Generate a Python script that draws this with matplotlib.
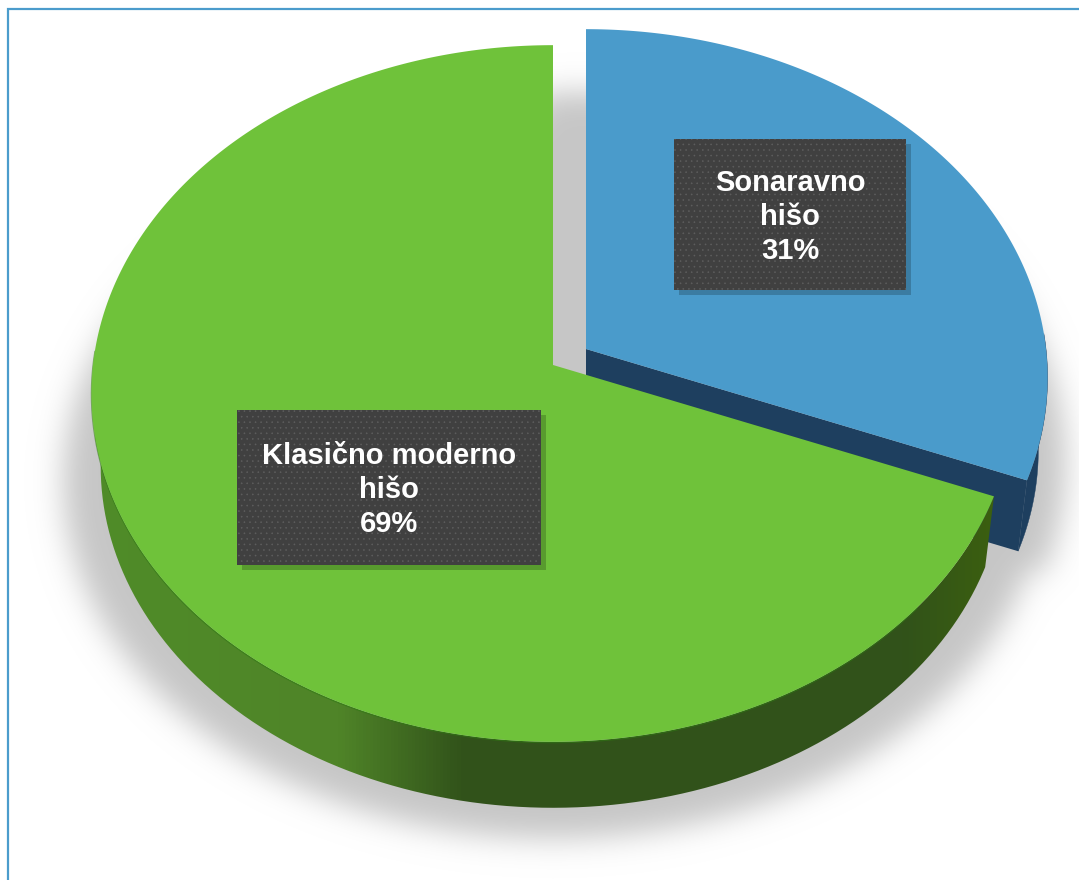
import numpy as np
import matplotlib
matplotlib.use("Agg")
import matplotlib.pyplot as plt
from matplotlib.path import Path
from matplotlib.patches import Polygon, Rectangle, PathPatch
from matplotlib.colors import LinearSegmentedColormap

categories = ["Sonaravno hišo", "Klasično moderno hišo"]
label_lines = [["Sonaravno", "hišo"], ["Klasično moderno", "hišo"]]
shares = [31, 69]

# ---- styling / layout ----
W, H = 1079, 880
TOP_COL = ["#4a9bcb", "#6fc23a"]
BLUE_DARK = "#1e3f5f"
BOX_COL = "#404040"
DOT_COL = "#5e5e5e"
FRAME_COL = "#4b9ccc"
CENTER = (553.0, 365.0)
EXPLODE = [(33.0, -16.0), (0.0, 0.0)]
B, A, P = 460.0, 346.0, 0.0818   # perspective disc
DEPTH, BOTTOM_SCALE = 73.5, 0.98
BOXES = [(674, 139, 232, 151), (237, 410, 304, 155)]
WALL_STOPS = [(0.0, "#4f8c28"), (0.27, "#4f8428"), (0.41, "#31521a"),
              (0.9, "#31521a"), (1.0, "#3b5f10")]

plt.rcParams["font.family"] = ["Liberation Sans", "DejaVu Sans"]
plt.rcParams["hatch.linewidth"] = 0.4


def disc(theta, c, b=B, a=A, scale=1.0, dz=0.0):
    """Project clock angle theta (radians from 12 o'clock) on to the picture."""
    u, v = np.sin(theta), np.cos(theta)
    w = 1 + P * v
    return c[0] + scale * b * u / w, c[1] + dz - scale * a * v / w


def blur(img, sigma, pad=80):
    img = np.pad(img, pad)
    fy = np.fft.fftfreq(img.shape[0])[:, None]
    fx = np.fft.rfftfreq(img.shape[1])[None, :]
    g = np.exp(-2 * (np.pi * sigma) ** 2 * (fx ** 2 + fy ** 2))
    out = np.fft.irfft2(np.fft.rfft2(img) * g, s=img.shape)
    return out[pad:-pad, pad:-pad]


fracs = np.array(shares) / sum(shares)
edges = np.concatenate([[0], np.cumsum(fracs)]) * 2 * np.pi
centers = [(CENTER[0] + e[0], CENTER[1] + e[1]) for e in EXPLODE]

fig = plt.figure(figsize=(W / 100, H / 100), dpi=100)
ax = fig.add_axes([0, 0, 1, 1])
ax.set_xlim(0, W)
ax.set_ylim(H, 0)

# ---- soft shadow ----
yy, xx = np.mgrid[0:H, 0:W]
pts = np.column_stack([xx.ravel() + 0.5, yy.ravel() + 0.5])
tt = np.linspace(0, 2 * np.pi, 400)
sx, sy = disc(tt, (CENTER[0], 452.0), b=488.0, a=355.0)
mask = Path(np.column_stack([sx, sy])).contains_points(pts)
t0 = np.linspace(edges[0] - 0.12, edges[1], 200)
sx, sy = disc(t0, (centers[0][0], 433.0), b=478.0, a=369.0)
poly = np.vstack([[centers[0][0] - 40, 433.0], np.column_stack([sx, sy])])
mask |= Path(poly).contains_points(pts)
soft = np.clip(blur(mask.reshape(H, W).astype(float), 15.0), 0, 1)
rgba = np.zeros((H, W, 4))
rgba[..., :3] = 0.78
rgba[..., 3] = soft
ax.imshow(rgba, extent=(0, W, H, 0), aspect="auto", zorder=1, interpolation="bilinear")

# ---- slices ----
wall_cmap = LinearSegmentedColormap.from_list("wall", WALL_STOPS)
for i in range(2):
    c = centers[i]
    th = np.linspace(edges[i], edges[i + 1], 361)
    tx, ty = disc(th, c)
    front = np.cos(th) < 0.05          # the back of the rim is hidden by the top face
    bx, by = disc(th, c, scale=BOTTOM_SCALE, dz=DEPTH)
    wall = np.vstack([np.column_stack([tx[front], ty[front]]),
                      np.column_stack([bx[front], by[front]])[::-1]])
    z = 3 + 3 * i
    if i == 0:
        ax.add_patch(Polygon(wall, closed=True, fc=BLUE_DARK, ec=BLUE_DARK, lw=0.3, zorder=z))
        ex, ey = disc(edges[1], c)
        fx_, fy_ = disc(edges[1], c, scale=BOTTOM_SCALE, dz=DEPTH)
        ax0, ay0 = disc(0.0, c, scale=0.0)
        ax1, ay1 = disc(0.0, c, scale=0.0, dz=DEPTH)
        ax.add_patch(Polygon([(ax0, ay0), (ex, ey), (fx_, fy_), (ax1, ay1)],
                             closed=True, fc=BLUE_DARK, ec="none", zorder=z + 0.5))
    else:
        grad = np.linspace(0, 1, 256)[None, :]
        im = ax.imshow(grad, cmap=wall_cmap, extent=(95, 995, H, 0), aspect="auto",
                       zorder=z, interpolation="bilinear")
        im.set_clip_path(PathPatch(Path(np.vstack([wall, wall[:1]])), transform=ax.transData))
    ax.add_patch(Polygon(np.vstack([c, np.column_stack([tx, ty])]), closed=True,
                         fc=TOP_COL[i], ec="none", zorder=z + 1))
    if i == 1:
        low = np.sin(th) < 0.75
        lowf = low & front
        ax.plot(tx[lowf], ty[lowf] + 0.8, color="#2f7a12", lw=1.0, alpha=0.55, zorder=z + 0.5)

# ---- labels ----
for i in range(2):
    x, y, w, h = BOXES[i]
    ax.add_patch(Rectangle((x + 5, y + 5), w, h, fc="black", ec="none", alpha=0.2, zorder=9))
    ax.add_patch(Rectangle((x, y), w, h, fc=BOX_COL, ec="none", zorder=10))
    ax.add_patch(Rectangle((x, y), w, h, fc="none", ec=DOT_COL, hatch="...", lw=0, zorder=10.5))
    txt = "\n".join(label_lines[i] + [f"{shares[i]}%"])
    ax.text(x + w / 2, y + h / 2 + 2.5, txt, color="white", fontsize=21, fontweight="bold",
            ha="center", va="center", linespacing=1.28, zorder=11)

# ---- frame ----
ax.plot([8.2, 8.2, W], [H, 8.8, 8.8], color=FRAME_COL, lw=1.6, zorder=20,
        solid_joinstyle="miter", solid_capstyle="butt")

ax.set_xlim(0, W)
ax.set_ylim(H, 0)
ax.axis("off")
fig.savefig("out.png", dpi=100, facecolor="white")
